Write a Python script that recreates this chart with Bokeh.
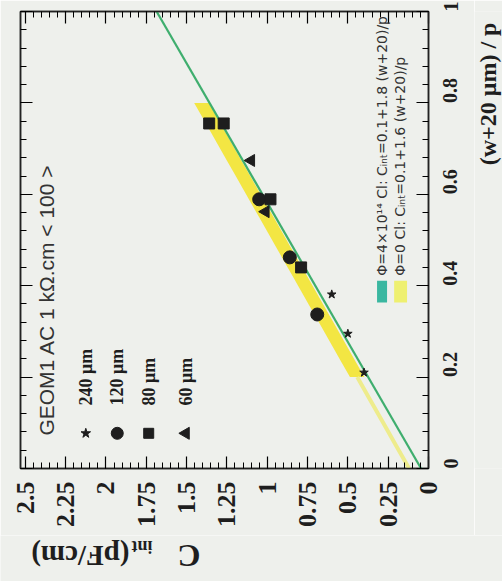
import math
import numpy as np
from bokeh.plotting import figure
from bokeh.layouts import column, row
from bokeh.models import Range1d, LinearAxis, FixedTicker, NumeralTickFormatter, Label
from bokeh.embed import file_html
from bokeh.resources import INLINE

# ---------------- data ----------------
# x = (w+20 um)/p , y = C_int (pF/cm)
ratio_240 = [0.381, 0.295, 0.210]
cint_240 = [0.60, 0.50, 0.40]
ratio_120 = [0.337, 0.462, 0.589]
cint_120 = [0.69, 0.86, 1.05]
ratio_80 = [0.440, 0.589, 0.755, 0.755]
cint_80 = [0.79, 0.98, 1.27, 1.36]
ratio_60 = [0.562, 0.674]
cint_60 = [1.01, 1.10]

series_names = ["240 μm", "120 μm", "80 μm", "60 μm"]
series_markers = ["star", "circle", "square", "triangle"]

# fits: intercept, slope
fit_irr = (0.046, 1.64)     # green line
fit_0 = (0.12, 1.61)        # yellow band
band_half = 0.045
band_range = (0.2, 0.8)

fit_texts = ["Φ=4×10¹⁴ Cl: Cᵢₙₜ=0.1+1.8 (w+20)/p",
             "Φ=0 Cl: Cᵢₙₜ=0.1+1.6 (w+20)/p"]

c_ticks = [0, 0.25, 0.5, 0.75, 1, 1.25, 1.5, 1.75, 2, 2.25, 2.5]
r_ticks = [0, 0.2, 0.4, 0.6, 0.8, 1.0]

r_title = "(w+20 μm) / p"
c_title_parts = ["C", "int", "(pF/cm)"]

# ---------------- styling ----------------
BG = "#eef0ec"
INK = "#1e1e1e"
SERIF = "Liberation Serif"

# ---------------- main figure (chart drawn rotated 90° CCW) ----------------
p = figure(width=474, height=535, x_range=Range1d(2.53, 0.0), y_range=Range1d(0, 1),
           output_backend="svg", toolbar_location=None,
           x_axis_location=None, y_axis_location=None,
           min_border_left=20, min_border_right=46, min_border_top=11, min_border_bottom=67)
p.grid.visible = False
p.background_fill_color = BG
p.border_fill_color = BG
p.outline_line_color = "#222222"
p.outline_line_width = 1.5

c_minor = [round(v, 2) for v in np.arange(0, 2.5001, 0.05)]
r_minor = [round(v, 2) for v in np.arange(0, 1.0001, 0.04)]

def mk_axis(ticks, minor, fmt, size, standoff, show):
    ax = LinearAxis(ticker=FixedTicker(ticks=ticks, minor_ticks=minor),
                    formatter=NumeralTickFormatter(format=fmt),
                    major_label_orientation=math.pi / 2,
                    major_label_text_font=SERIF,
                    major_label_text_font_style="bold",
                    major_label_text_font_size=size,
                    major_label_text_color=INK,
                    major_label_standoff=standoff,
                    major_tick_in=12, major_tick_out=0,
                    minor_tick_in=6, minor_tick_out=0,
                    axis_line_width=1.5, axis_line_color="#222222",
                    major_tick_line_width=1.2, minor_tick_line_width=1.0)
    if not show:
        ax.major_label_overrides = {t: "" for t in ticks}
        ax.major_label_standoff = 0
    return ax

p.add_layout(mk_axis(c_ticks, c_minor, "0.[00]", "26px", 13, True), "below")
p.add_layout(mk_axis(c_ticks, c_minor, "0.[00]", "26px", 0, False), "above")
p.add_layout(mk_axis(r_ticks, r_minor, "0.[0]", "20px", 22, True), "right")
p.add_layout(mk_axis(r_ticks, r_minor, "0.[0]", "20px", 0, False), "left")

# fits
xb = np.linspace(band_range[0], band_range[1], 20)
yc = fit_0[0] + fit_0[1] * xb
p.harea(y=xb, x1=yc - band_half, x2=yc + band_half, fill_color="#f2e53a", fill_alpha=0.95)
xl = np.linspace(0, band_range[0], 5)
p.line(x=fit_0[0] + fit_0[1] * xl, y=xl, line_color="#eeec8c", line_width=4)
xg = np.array([0.0, 1.0])
p.line(x=fit_irr[0] + fit_irr[1] * xg, y=xg, line_color="#3fae6e", line_width=2.2)

# data points
p.scatter(x=cint_240, y=ratio_240, marker="star", size=9, color=INK)
p.scatter(x=cint_120, y=ratio_120, marker="circle", size=13, color=INK)
p.scatter(x=cint_80, y=ratio_80, marker="square", size=11, color=INK)
p.scatter(x=cint_60, y=ratio_60, marker="triangle", size=12, color=INK, angle=math.pi / 2)

# legend (markers + labels)
leg_c = [2.125, 1.93, 1.735, 1.505]
leg_mark_r = 0.077
leg_text_r = 0.138
leg_sizes = [10, 12, 10, 12]
for c, name, mk, sz in zip(leg_c, series_names, series_markers, leg_sizes):
    p.scatter(x=[c], y=[leg_mark_r], marker=mk, size=sz, color=INK,
              angle=math.pi / 2 if mk == "triangle" else 0)
    p.add_layout(Label(x=c, y=leg_text_r, text=name, angle=math.pi / 2,
                       text_align="left", text_baseline="middle",
                       text_font=SERIF, text_font_style="bold",
                       text_font_size="18px", text_color=INK))

p.add_layout(Label(x=2.367, y=0.072, text="GEOM1 AC 1 kΩ.cm < 100 >", angle=math.pi / 2,
                   text_align="left", text_baseline="middle",
                   text_font="Liberation Sans", text_font_size="21px", text_color="#333333"))

# fit legend
box_r = (0.363, 0.411)
box_c = [(0.257, 0.319), (0.133, 0.213)]
box_col = ["#3ab7a0", "#eef070"]
txt_c = [0.288, 0.176]
for (c0, c1), col, tc, t in zip(box_c, box_col, txt_c, fit_texts):
    p.quad(left=c1, right=c0, bottom=box_r[0], top=box_r[1], fill_color=col, line_color=None)
    p.add_layout(Label(x=tc, y=0.422, text=t, angle=math.pi / 2,
                       text_align="left", text_baseline="middle",
                       text_font="DejaVu Sans", text_font_size="14px", text_color="#333333"))

# ---------------- side strips holding the axis titles ----------------
def strip(w, h):
    f = figure(width=w, height=h, x_range=Range1d(0, w), y_range=Range1d(0, h),
               output_backend="svg", toolbar_location=None,
               x_axis_location=None, y_axis_location=None,
               min_border=0)
    f.grid.visible = False
    f.outline_line_color = None
    f.background_fill_color = BG
    f.border_fill_color = BG
    return f

# right strip: x-axis title, reading upward, ending near the top
rs = strip(28, 535)
rs.add_layout(Label(x=13, y=522, text=r_title, angle=math.pi / 2,
                    text_align="right", text_baseline="middle",
                    text_font=SERIF, text_font_style="bold", text_font_size="24px", text_color=INK))

# bottom strip: y-axis title, upside-down, at the left end
bs = strip(502, 46)
bs.add_layout(Label(x=200, y=26, text=c_title_parts[0], angle=math.pi,
                    text_align="left", text_baseline="middle",
                    text_font=SERIF, text_font_style="bold", text_font_size="32px", text_color=INK))
bs.add_layout(Label(x=152, y=35, text=c_title_parts[1], angle=math.pi,
                    text_align="left", text_baseline="middle",
                    text_font=SERIF, text_font_style="bold", text_font_size="18px", text_color=INK))
bs.add_layout(Label(x=129, y=26, text=c_title_parts[2], angle=math.pi,
                    text_align="left", text_baseline="middle",
                    text_font=SERIF, text_font_style="bold", text_font_size="29px", text_color=INK))

layout = column(row(p, rs, spacing=0), bs, spacing=0)
open("out.html", "w").write(file_html(layout, INLINE))
